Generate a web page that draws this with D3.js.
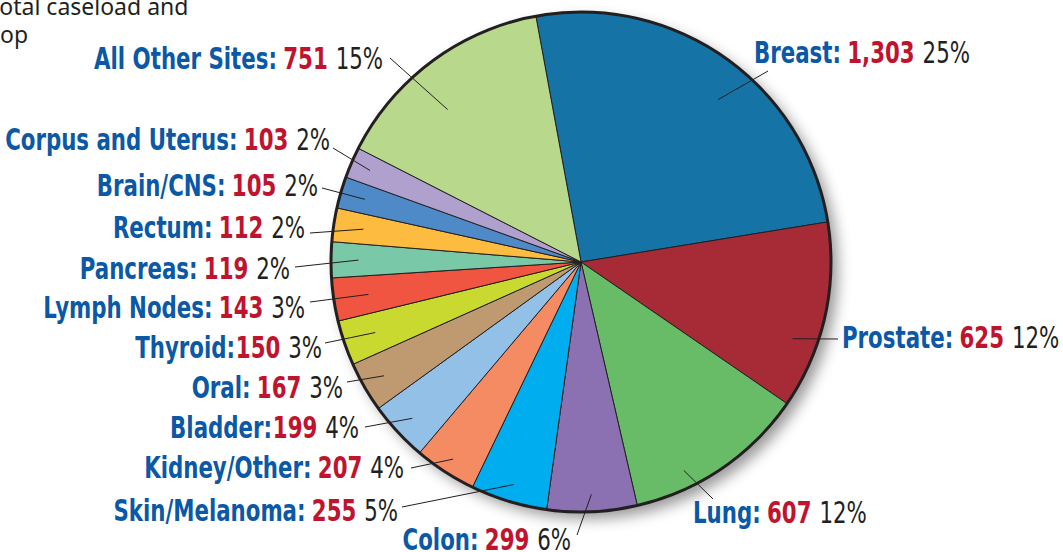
<!DOCTYPE html>
<html>
<head>
<meta charset="utf-8">
<script src="https://cdn.jsdelivr.net/npm/d3@7"></script>
<style>
  body { margin: 0; background: #fff; }
  svg { display: block; }
  .lbl { font-family: "Liberation Sans Narrow", "DejaVu Sans Condensed", "DejaVu Sans", sans-serif; font-stretch: condensed; font-size: 30px; }
  .nm { font-weight: bold; fill: #0a58a6; }
  .val { font-weight: bold; fill: #c0142e; }
  .pct { font-weight: normal; fill: #231f20; }
  .note { font-family: "Noto Sans", "Open Sans", sans-serif; font-size: 23px; fill: #231f20; }
</style>
</head>
<body>
<svg id="chart" width="1063" height="552"></svg>
<script>
var sites = ["Breast", "Prostate", "Lung", "Colon", "Skin/Melanoma", "Kidney/Other", "Bladder",
             "Oral", "Thyroid", "Lymph Nodes", "Pancreas", "Rectum", "Brain/CNS",
             "Corpus and Uterus", "All Other Sites"];
var cases = [1303, 625, 607, 299, 255, 207, 199, 167, 150, 143, 119, 112, 105, 103, 751];
var pctLabels = ["25%", "12%", "12%", "6%", "5%", "4%", "4%", "3%", "3%", "3%", "2%", "2%", "2%", "2%", "15%"];
var colours = ["#1673a5", "#a72b37", "#69bc67", "#8b71b2", "#00aeef", "#f58b62", "#93c0e6",
               "#bf9a70", "#c9d92f", "#ef5540", "#79c8a8", "#fdbb40", "#4f8ac8", "#afa0cd", "#b8d98b"];

// label placement: [x, baseline, anchor, leaderX, leaderY, leader angle nudge (deg), leader radius factor]
var labelLayout = [
  [754, 63, "start", 768, 71, 5, 0.85],
  [842, 348, "start", 838, 339, 7.3, 0.9],
  [693, 523, "start", 713, 499, 8, 0.93],
  [571, 550, "end", 577, 535, 0, 0.93],
  [398, 521, "end", 402, 507, 0, 0.93],
  [404, 478, "end", 411, 468, 0, 0.94],
  [359, 438, "end", 365, 427, 0, 0.92],
  [343, 398, "end", 347, 382, 0, 0.91],
  [322, 358, "end", 325, 343, 0, 0.87],
  [305, 318, "end", 310, 302, 0, 0.86],
  [290, 279, "end", 295, 267, 0, 0.89],
  [305, 238, "end", 310, 233, 0, 0.88],
  [318, 196, "end", 322, 188, 0, 0.9],
  [330, 150, "end", 333, 148, 0, 0.92],
  [383, 69, "end", 390, 58, -4.5, 0.81]
];
var tight = {"Thyroid": true, "Bladder": true};
var squeeze = 0.79;

var svg = d3.select("#chart"),
    cx = 581,
    cy = 262,
    radius = 250,
    start = -10.4 * Math.PI / 180;

var data = sites.map(function(s, i) { return {site: s, n: cases[i], pct: pctLabels[i], i: i}; });

//Drop shadow
var defs = svg.append("defs");
var f = defs.append("filter").attr("id", "shadow")
  .attr("x", "-20%").attr("y", "-20%").attr("width", "140%").attr("height", "140%");
f.append("feDropShadow")
  .attr("dx", 7).attr("dy", 7).attr("stdDeviation", 7)
  .attr("flood-color", "#000").attr("flood-opacity", 0.4);

//Note text, cut at the left edge
svg.append("text").attr("class", "note").attr("x", -9).attr("y", 15).text("total caseload and");
svg.append("text").attr("class", "note").attr("x", 0).attr("y", 43).text("op");

var g = svg.append("g").attr("transform", "translate(" + cx + "," + cy + ")");

var pie = d3.pie()
  .sort(null)
  .value(function(d) { return d.n; })
  .startAngle(start)
  .endAngle(start + 2 * Math.PI);

var arc = d3.arc().innerRadius(0).outerRadius(radius);
var arcs = pie(data);

function innerPoint(d) {
  var L = labelLayout[d.data.i],
      a = (d.startAngle + d.endAngle) / 2 + L[5] * Math.PI / 180,
      r = radius * L[6];
  return [r * Math.sin(a), -r * Math.cos(a)];
}

g.append("circle")
  .attr("r", radius)
  .attr("fill", "#fff")
  .attr("filter", "url(#shadow)");

//Create the slices
g.selectAll("path.slice")
  .data(arcs)
  .enter()
  .append("path")
  .attr("class", "slice")
  .attr("d", arc)
  .attr("fill", function(d) { return colours[d.data.i]; })
  .attr("stroke", "#231f20")
  .attr("stroke-width", 1)
  .attr("stroke-linejoin", "round");

g.append("circle")
  .attr("r", radius)
  .attr("fill", "none")
  .attr("stroke", "#231f20")
  .attr("stroke-width", 3);

//Leader lines
g.selectAll("line.leader")
  .data(arcs)
  .enter()
  .append("line")
  .attr("class", "leader")
  .attr("x1", function(d) { return innerPoint(d)[0]; })
  .attr("y1", function(d) { return innerPoint(d)[1]; })
  .attr("x2", function(d) { return labelLayout[d.data.i][3] - cx; })
  .attr("y2", function(d) { return labelLayout[d.data.i][4] - cy; })
  .attr("stroke", "#231f20")
  .attr("stroke-width", 1);

//Labels
var lbl = svg.selectAll("text.lbl")
  .data(data)
  .enter()
  .append("text")
  .attr("class", "lbl")
  .attr("transform", function(d) {
    var L = labelLayout[d.i];
    return "translate(" + L[0] + "," + L[1] + ") scale(" + squeeze + ",1)";
  })
  .attr("text-anchor", function(d) { return labelLayout[d.i][2]; });
lbl.append("tspan").attr("class", "nm").text(function(d) { return d.site + ":"; });
lbl.append("tspan").attr("class", "val")
  .attr("dx", function(d) { return tight[d.site] ? 1 : 8; })
  .text(function(d) { return d3.format(",")(d.n); });
lbl.append("tspan").attr("class", "pct").attr("dx", 10).text(function(d) { return d.pct; });
</script>
</body>
</html>
